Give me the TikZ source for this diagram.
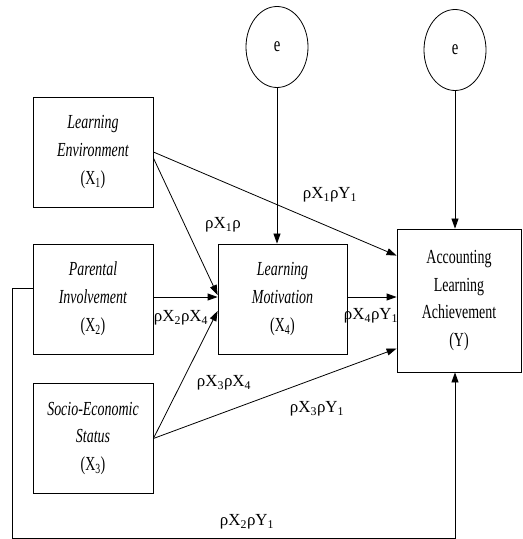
\documentclass[tikz,border=0pt]{standalone}
\usepackage{fontspec}
\setmainfont{Liberation Serif}
\newfontfamily\boxfont{Liberation Serif}[FakeStretch=0.7]
\usetikzlibrary{arrows.meta,shapes.geometric}
\tikzset{
  box/.style={draw, line width=0.8bp, minimum width=#1, minimum height=110bp,
    inner sep=0pt, align=center, font=\boxfont\fontsize{20}{28}\selectfont},
  err/.style={draw, ellipse, line width=0.8bp, minimum width=62bp,
    minimum height=81bp, inner sep=0pt, font=\boxfont\fontsize{21}{22}\selectfont},
  lbl/.style={inner sep=0pt, font=\fontsize{17}{18}\selectfont},
  arr/.style={-{Triangle[length=10bp,width=7bp]}, line width=0.8bp}
}
\begin{document}
\begin{tikzpicture}[x=1bp,y=-1bp]
  \useasboundingbox (0,0) rectangle (523,539);

  \node[box=120bp] (x1) at (93,152) {\textit{Learning}\\\textit{Environment}\\(X\textsubscript{1})};
  \node[box=120bp] (x2) at (93,299) {\textit{Parental}\\\textit{Involvement}\\(X\textsubscript{2})};
  \node[box=120bp] (x3) at (93,438.5) {\textit{Socio-Economic}\\\textit{Status}\\(X\textsubscript{3})};
  \node[box=129bp] (x4) at (282.5,299) {\textit{Learning}\\\textit{Motivation}\\(X\textsubscript{4})};
  \node[box=124bp, minimum height=143bp] (y) at (459,300.5) {Accounting\\Learning\\Achievement\\(Y)};

  \node[err] (e1) at (277,47) {e};
  \node[err] (e2) at (455,50) {e};

  % error terms
  \draw[arr] (e1.south) -- (e1.south |- x4.north);
  \draw[arr] (e2.south) -- (e2.south |- y.north);

  % paths
  \draw[arr] (x1.east) -- ([yshift=-27bp]y.north west);
  \draw[arr] ([yshift=-6bp]x1.east) -- ([yshift=4bp]x4.west);
  \draw[arr] ([yshift=2bp]x2.east) -- ([yshift=2bp]x4.west);
  \draw[arr] (x3.east) -- ([yshift=-12bp]x4.west);
  \draw[arr] (x3.east) -- ([yshift=-48bp]y.west);
  \draw[arr] ([yshift=2bp]x4.east) -- ([yshift=2bp]x4.east -| y.west);
  \coordinate (lp) at (12,538);
  \draw[arr] ([yshift=11bp]x2.west) -| (lp) -| ([xshift=-4bp]y.south);

  % coefficients
  \node[lbl] (l1) at (330,195) {ρX\textsubscript{1}ρY\textsubscript{1}};
  \node[lbl] (l2) at (223,225) {ρX\textsubscript{1}ρ};
  \node[lbl] (l3) at (181,318) {ρX\textsubscript{2}ρX\textsubscript{4}};
  \node[lbl] (l4) at (371,316) {ρX\textsubscript{4}ρY\textsubscript{1}};
  \node[lbl] (l5) at (224,383) {ρX\textsubscript{3}ρX\textsubscript{4}};
  \node[lbl] (l6) at (317,409) {ρX\textsubscript{3}ρY\textsubscript{1}};
  \node[lbl] (l7) at (247,522) {ρX\textsubscript{2}ρY\textsubscript{1}};
\end{tikzpicture}
\end{document}
